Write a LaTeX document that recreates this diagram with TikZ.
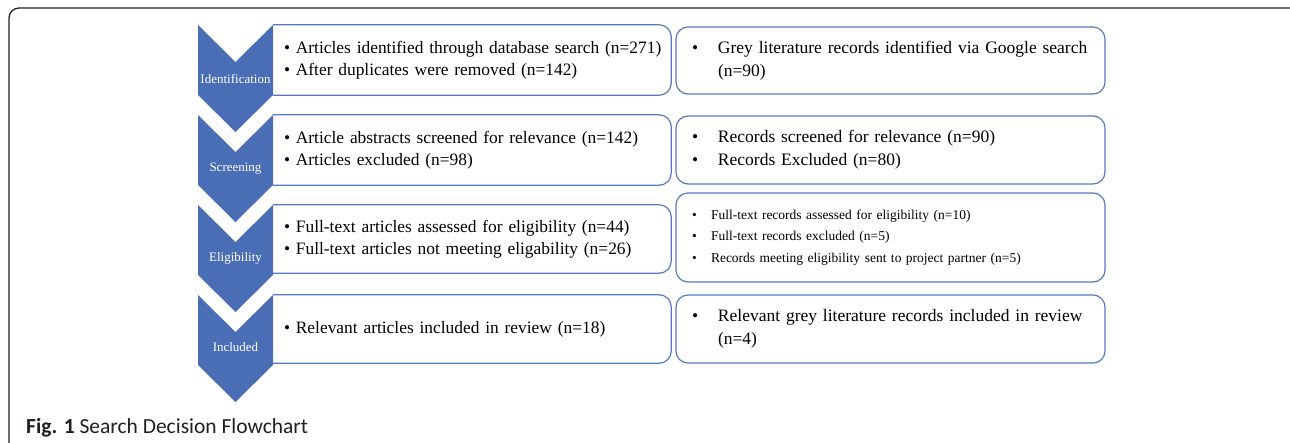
\documentclass[tikz,border=0pt]{standalone}
\usepackage{fontspec}
\setmainfont{Liberation Serif}
\newfontfamily\capfont{Carlito}
\usetikzlibrary{positioning}

\definecolor{stageblue}{HTML}{4A6EB5}
\definecolor{boxblue}{HTML}{5479C0}
\definecolor{capgray}{HTML}{231F20}

\tikzset{
  stage/.style={fill=stageblue},
  stagelabel/.style={text=white,inner sep=0pt,font=\fontsize{13}{14}\selectfont},
  boxline/.style={draw=boxblue,line width=1.2pt,rounded corners=12pt},
  leftbox/.style={minimum height=70pt,text width=376pt,inner xsep=11pt,align=left,
    font=\fontsize{17.4}{22.5}\selectfont},
  rightbox/.style={boxline,minimum height=68pt,text width=401pt,inner xsep=14pt,align=left,
    font=\fontsize{17.5}{23}\selectfont},
}
\newcommand{\litem}[1]{\mbox{\textbullet\ #1}}
\newcommand{\rbul}{\makebox[28pt][l]{\hspace{2pt}\textbullet}}
\newcommand{\rind}{\hspace*{28pt}}
\newcommand{\sbul}{\makebox[20pt][l]{\hspace{1pt}\textbullet}}

\begin{document}
\begin{tikzpicture}[x=1pt,y=-1pt]
\useasboundingbox (0,0) rectangle (1290,442);
%%% frame of the figure
\draw[capgray,line width=1.3pt,rounded corners=10pt] (9,8) rectangle (1300,480);

%%% database search column
\node[leftbox] (art1) at (472,60)
{\litem{Articles identified through database search (n=271)}\\
 \litem{After duplicates were removed (n=142)}};
\node[leftbox] (art2) at (472,150)
{\litem{Article abstracts screened for relevance (n=142)}\\
 \litem{Articles excluded (n=98)}};
\node[leftbox,minimum height=68pt] (art3) at (472,239)
{\litem{Full-text articles assessed for eligibility (n=44)}\\
 \litem{Full-text articles not meeting eligability (n=26)}};
\node[leftbox,minimum height=68pt] (art4) at (472,329)
{\litem{Relevant articles included in review (n=18)}};
\draw[boxline] (art1.north west) -- (art1.north east) -- (art1.south east) -- (art1.south west);
\draw[boxline] (art2.north west) -- (art2.north east) -- (art2.south east) -- (art2.south west);
\draw[boxline] (art3.north west) -- (art3.north east) -- (art3.south east) -- (art3.south west);
\draw[boxline] (art4.north west) -- (art4.north east) -- (art4.south east) -- (art4.south west);

%%% grey literature column
\node[rightbox,minimum height=67pt] (grey1) at (890.5,60.5)
{\rbul Grey literature records identified via Google search\\
 \rind (n=90)};
\node[rightbox] (grey2) at (890.5,150)
{\rbul Records screened for relevance (n=90)\\
 \rbul Records Excluded (n=80)};
\node[rightbox,minimum height=89pt,inner xsep=15pt,text width=399pt,
      font=\fontsize{13.5}{21.5}\selectfont] (grey3) at (890.5,237.5)
{\sbul Full-text records assessed for eligibility (n=10)\\
 \sbul Full-text records excluded (n=5)\\
 \sbul Records meeting eligibility sent to project partner (n=5)};
\node[rightbox] (grey4) at (890.5,329)
{\rbul Relevant grey literature records included in review\\
 \rind (n=4)};

%%% stage chevrons
\fill[stage] (198,25) -- (235.5,62) -- (273,25) -- (273,95) -- (235.5,132) -- (198,95) -- cycle;
\fill[stage] (198,115) -- (235.5,152) -- (273,115) -- (273,185) -- (235.5,222) -- (198,185) -- cycle;
\fill[stage] (198,205) -- (235.5,242) -- (273,205) -- (273,275) -- (235.5,312) -- (198,275) -- cycle;
\fill[stage] (198,295) -- (235.5,332) -- (273,295) -- (273,365) -- (235.5,402) -- (198,365) -- cycle;
\node[stagelabel] (ident) at (235.5,79) {Identification};
\node[stagelabel] (screen) at (235.5,169) {Screening};
\node[stagelabel] (elig) at (235.5,258) {Eligibility};
\node[stagelabel] (incl) at (235.5,347) {Included};

%%% caption
\node[anchor=base west,inner sep=0pt,text=capgray,font=\capfont\fontsize{21.5}{23}\selectfont]
  (caption) at (26,433) {\textbf{Fig. 1} Search Decision Flowchart};
\end{tikzpicture}
\end{document}
